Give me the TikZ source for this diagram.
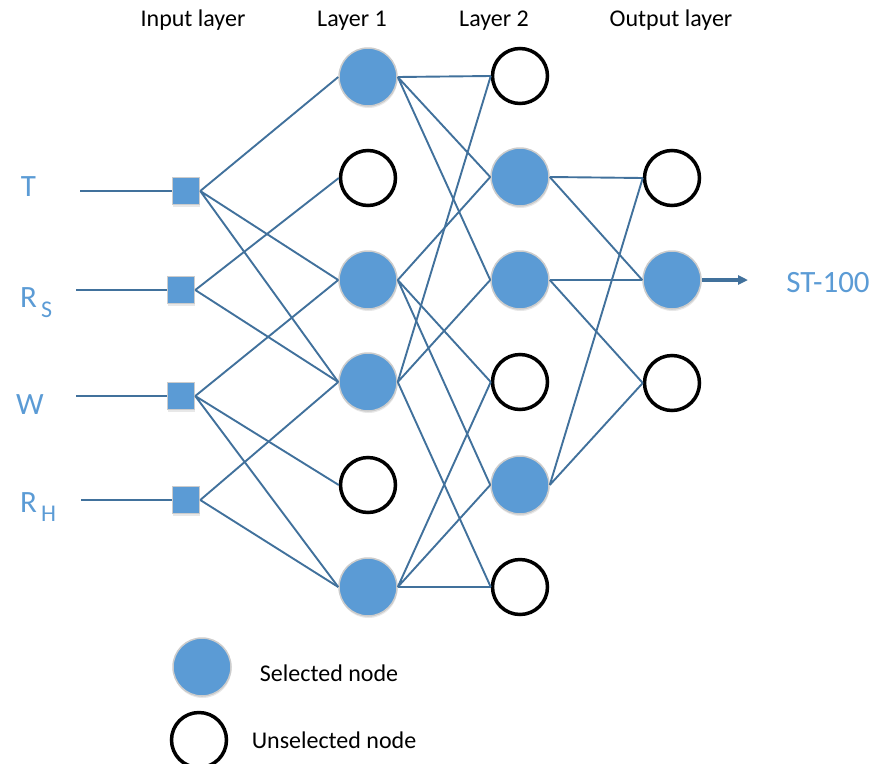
\documentclass[tikz,border=0pt]{standalone}
\usepackage{fontspec}
\setmainfont{Carlito}
\usetikzlibrary{arrows.meta,shadows}
\definecolor{nodeblue}{HTML}{5B9BD5}
\definecolor{edgeblue}{HTML}{41719C}
\definecolor{rimgray}{HTML}{CCCCCC}
\begin{document}
\begin{tikzpicture}[x=1pt,y=-1pt,
  sel/.style={circle,fill=nodeblue,draw=rimgray,line width=1.5pt,minimum size=58pt,inner sep=0pt,
    drop shadow={opacity=0.18,shadow xshift=0.5pt,shadow yshift=-2pt}},
  unsel/.style={circle,fill=white,draw=black,line width=3.5pt,minimum size=55pt,inner sep=0pt},
  inp/.style={rectangle,fill=nodeblue,draw=rimgray,line width=1.5pt,minimum size=27pt,inner sep=0pt,
    drop shadow={opacity=0.18,shadow xshift=0.5pt,shadow yshift=-2pt}},
  wire/.style={draw=edgeblue,line width=1.9pt},
  title/.style={font=\fontsize{24}{28}\selectfont,inner sep=0pt},
  var/.style={text=nodeblue,font=\fontsize{31}{34}\selectfont,inner sep=0pt},
  legendtext/.style={font=\fontsize{24}{28}\selectfont,inner sep=0pt}]
\useasboundingbox (0,0) rectangle (880,763);

% titles
\node[title,anchor=base] (tin) at (193,26) {Input layer};
\node[title,anchor=base] (tl1) at (352,26) {Layer 1};
\node[title,anchor=base] (tl2) at (494,26) {Layer 2};
\node[title,anchor=base] (tout) at (671,26) {Output layer};

% variable labels
\node[var] (lT) at (28.5,187) {T};
\node[var,anchor=base west] (lRS) at (20,307) {R\hspace{4pt}\raisebox{-10pt}{\fontsize{24}{24}\selectfont S}};
\node[var] (lW) at (30,405) {W};
\node[var,anchor=base west] (lRH) at (20,512) {R\hspace{4pt}\raisebox{-9pt}{\fontsize{24}{24}\selectfont H}};

% input line start points
\coordinate (s1) at (80,191);
\coordinate (s2) at (76,290);
\coordinate (s3) at (76,396);
\coordinate (s4) at (81,500);

% layer 1
\node[sel]   (a1) at (368,77) {};
\node[unsel] (a2) at (368,178) {};
\node[sel]   (a3) at (368,280) {};
\node[sel]   (a4) at (368,382) {};
\node[unsel] (a5) at (368,485) {};
\node[sel]   (a6) at (368,587) {};

% layer 2
\node[unsel] (b1) at (520,76) {};
\node[sel]   (b2) at (520,177) {};
\node[sel]   (b3) at (520,280) {};
\node[unsel] (b4) at (520,382) {};
\node[sel]   (b5) at (520,485) {};
\node[unsel] (b6) at (520,587) {};

% output layer
\node[unsel] (c1) at (672,178) {};
\node[sel]   (c2) at (672,280) {};
\node[unsel] (c3) at (672,383) {};

% inputs
\node[inp] (i1) at (186,191) {};
\node[inp] (i2) at (181,290) {};
\node[inp] (i3) at (181,396) {};
\node[inp] (i4) at (186,500) {};

% input leads
\path[wire] (s1) -- (i1.west) (s2) -- (i2.west) (s3) -- (i3.west) (s4) -- (i4.west);

% input -> layer 1
\path[wire] (i1.east) -- (a1.west) (i1.east) -- (a3.west) (i1.east) -- (a4.west);
\path[wire] (i2.east) -- (a2.west) (i2.east) -- (a4.west);
\path[wire] (i3.east) -- (a3.west) (i3.east) -- (a5.west) (i3.east) -- (a6.west);
\path[wire] (i4.east) -- (a4.west) (i4.east) -- (a6.west);

% layer 1 -> layer 2
\path[wire] (a1.east) -- (b1.west) (a1.east) -- (b2.west) (a1.east) -- (b3.west);
\path[wire] (a3.east) -- (b2.west) (a3.east) -- (b4.west) (a3.east) -- (b5.west);
\path[wire] (a4.east) -- (b1.west) (a4.east) -- (b3.west) (a4.east) -- (b6.west);
\path[wire] (a6.east) -- (b4.west) (a6.east) -- (b5.west) (a6.east) -- (b6.west);

% layer 2 -> output
\path[wire] (b2.east) -- (c1.west) (b2.east) -- (c2.west);
\path[wire] (b3.east) -- (c2.west) (b3.east) -- (c3.west);
\path[wire] (b5.east) -- (c1.west) (b5.east) -- (c3.west);

% output arrow
\coordinate (outend) at (748,280);
\draw[edgeblue,line width=3.5pt,-{Triangle[length=10pt,width=9pt]}] (c2.east) -- (outend);
\node[var,anchor=base] (st) at (828,292) {ST-100};

% legend
\node[sel]   (lg1) at (202,667) {};
\node[unsel] (lg2) at (199,740) {};
\node[legendtext,anchor=base] (lgt1) at (329,681) {Selected node};
\node[legendtext,anchor=base] (lgt2) at (334,748) {Unselected node};
\end{tikzpicture}
\end{document}
